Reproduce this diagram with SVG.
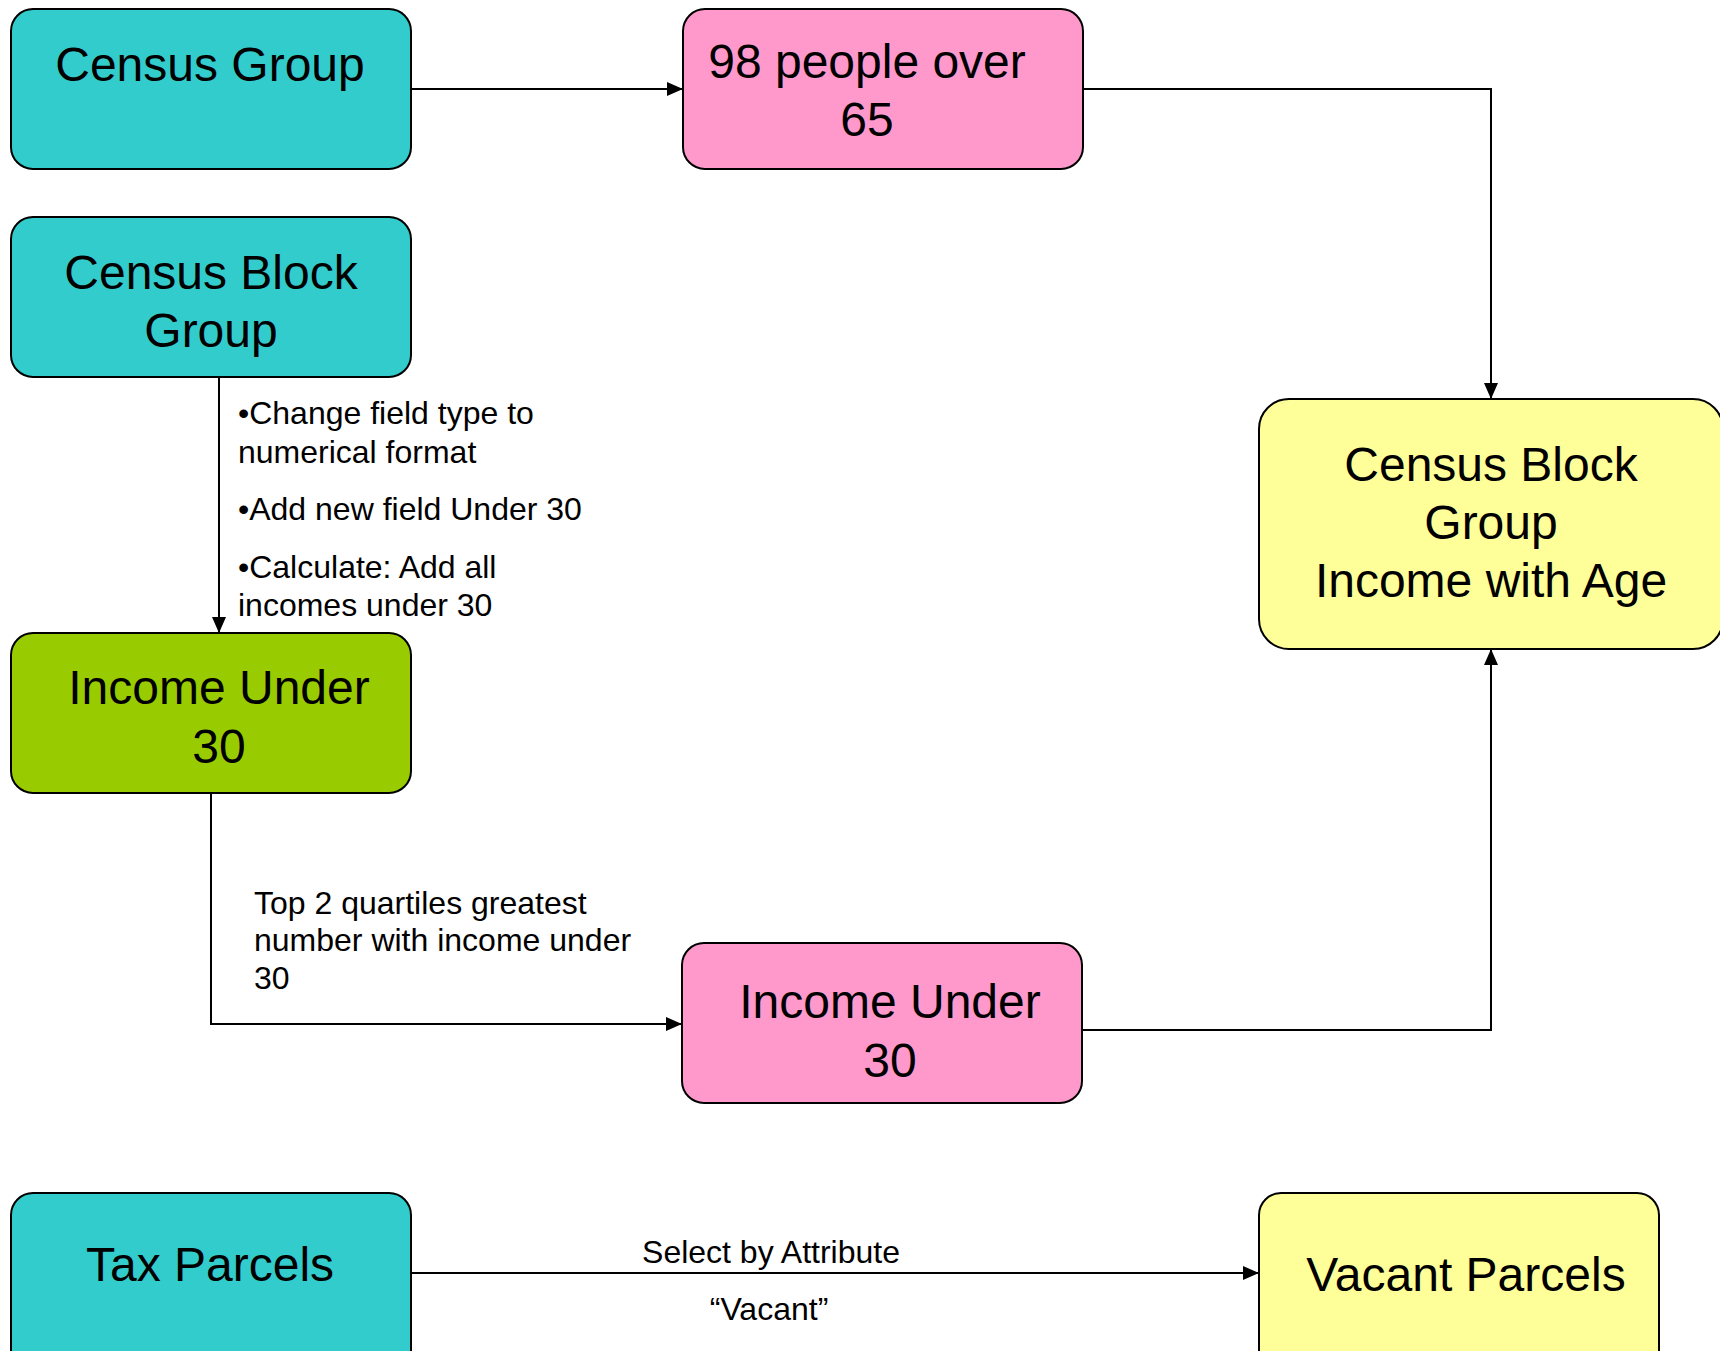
<svg xmlns="http://www.w3.org/2000/svg" width="1720" height="1351" viewBox="0 0 1720 1351">
<style>
.box{stroke:#000;stroke-width:2}
.cyan{fill:#33CCCC}.pink{fill:#FF99CC}.green{fill:#99CC00}.yellow{fill:#FFFF99}
.big{font-family:"Liberation Sans",Arial,sans-serif;font-size:48px;fill:#000;text-anchor:middle}
.small{font-family:"Liberation Sans",Arial,sans-serif;font-size:32px;fill:#000}
.mid{text-anchor:middle}
.conn{fill:none;stroke:#000;stroke-width:2}
</style>
<defs>
<marker id="arr" markerWidth="16" markerHeight="14" refX="15" refY="7" orient="auto" markerUnits="userSpaceOnUse">
<path d="M0,0 L16,7 L0,14 Z" fill="#000"/>
</marker>
</defs>
<rect width="1720" height="1351" fill="#fff"/>
<g id="connectors">
<path class="conn" d="M411,89 H682" marker-end="url(#arr)"/>
<path class="conn" d="M1083,89 H1491 V398" marker-end="url(#arr)"/>
<path class="conn" d="M219,377 V632" marker-end="url(#arr)"/>
<path class="conn" d="M211,793 V1024 H681" marker-end="url(#arr)"/>
<path class="conn" d="M1082,1030 H1491 V650" marker-end="url(#arr)"/>
<path class="conn" d="M411,1273 H1258" marker-end="url(#arr)"/>
<g id="labels">
<text class="small" x="238" y="424">•Change field type to</text>
<text class="small" x="238" y="463">numerical format</text>
<text class="small" x="238" y="520">•Add new field Under 30</text>
<text class="small" x="238" y="578">•Calculate: Add all</text>
<text class="small" x="238" y="616">incomes under 30</text>
<text class="small" x="254" y="914">Top 2 quartiles greatest</text>
<text class="small" x="254" y="951">number with income under</text>
<text class="small" x="254" y="989">30</text>
<text class="small mid" x="771" y="1263">Select by Attribute</text>
<text class="small mid" x="769" y="1320">“Vacant”</text>
</g>
</g>
<g id="census-group">
<rect class="box cyan" x="11" y="9" width="400" height="160" rx="22"/>
<text class="big" x="210" y="81">Census Group</text>
</g>
<g id="people-over-65">
<rect class="box pink" x="683" y="9" width="400" height="160" rx="22"/>
<text class="big" x="867" y="78">98 people over</text>
<text class="big" x="867" y="136">65</text>
</g>
<g id="census-block-group">
<rect class="box cyan" x="11" y="217" width="400" height="160" rx="22"/>
<text class="big" x="211" y="289">Census Block</text>
<text class="big" x="211" y="347">Group</text>
</g>
<g id="cbg-income-age">
<rect class="box yellow" x="1259" y="399" width="464" height="250" rx="30"/>
<text class="big" x="1491" y="481">Census Block</text>
<text class="big" x="1491" y="539">Group</text>
<text class="big" x="1491" y="597">Income with Age</text>
</g>
<g id="income-under-30-green">
<rect class="box green" x="11" y="633" width="400" height="160" rx="22"/>
<text class="big" x="219" y="704">Income Under</text>
<text class="big" x="219" y="763">30</text>
</g>
<g id="income-under-30-pink">
<rect class="box pink" x="682" y="943" width="400" height="160" rx="22"/>
<text class="big" x="890" y="1018">Income Under</text>
<text class="big" x="890" y="1077">30</text>
</g>
<g id="tax-parcels">
<rect class="box cyan" x="11" y="1193" width="400" height="180" rx="22"/>
<text class="big" x="210" y="1281">Tax Parcels</text>
</g>
<g id="vacant-parcels">
<rect class="box yellow" x="1259" y="1193" width="400" height="180" rx="22"/>
<text class="big" x="1466" y="1291">Vacant Parcels</text>
</g>
</svg>
